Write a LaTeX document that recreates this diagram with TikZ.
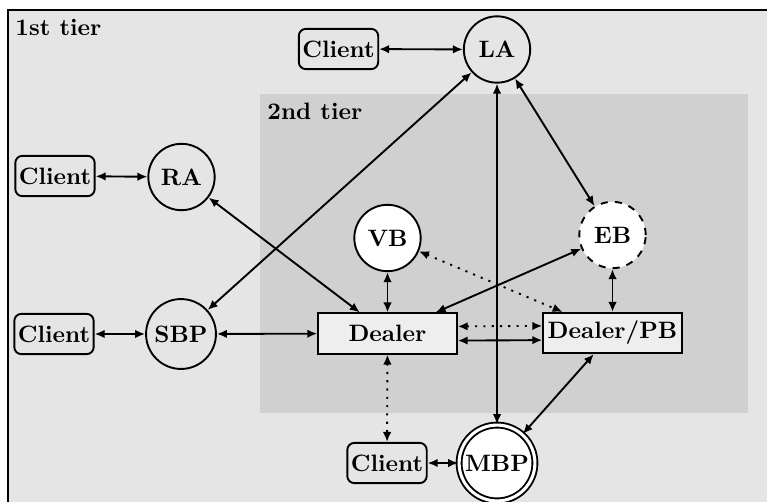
\documentclass[tikz,border=0pt]{standalone}
\usetikzlibrary{arrows.meta}
\definecolor{tierone}{HTML}{E5E5E5}
\definecolor{tiertwo}{HTML}{D0D0D0}
\definecolor{boxfill}{HTML}{EEEEEE}
\begin{document}
\begin{tikzpicture}[x=0.422pt,y=-0.422pt,
  every node/.style={font=\bfseries},
  conn/.style={line width=0.8pt,{Latex[length=4.2pt,width=3.6pt]}-{Latex[length=4.2pt,width=3.6pt]}},
  dotconn/.style={conn,dash pattern=on 0.9pt off 2.6pt},
  agent/.style={circle,draw,line width=0.8pt,inner sep=0pt,minimum size=28pt},
  whiteagent/.style={agent,fill=white},
  client/.style={draw,line width=0.8pt,rounded corners=3pt,inner sep=1.5pt,minimum height=17pt},
  dealerbox/.style={draw,line width=0.8pt,fill=boxfill,inner sep=1.5pt,minimum width=58.5pt,minimum height=17pt},
  tierlabel/.style={anchor=base west,inner sep=0pt}]
\useasboundingbox (0,0) rectangle (767,501);
\clip (0,0) rectangle (767,501);
\fill[white] (0,0) rectangle (767,501);
\draw[fill=tierone,line width=0.9pt] (8,10) rectangle (790,530);
\fill[tiertwo] (260,94) rectangle (748,413);
\node[tierlabel] (t1) at (15,36) {1st tier};
\node[tierlabel] (t2) at (267,119) {2nd tier};

\node[agent] (LA) at (497,49.5) {LA};
\node[agent] (RA) at (181.5,177) {RA};
\node[agent,minimum size=29.5pt] (SBP) at (181,334) {SBP};
\node[whiteagent] (VB) at (387.5,238) {VB};
\node[whiteagent,dashed] (EB) at (612.5,235) {EB};
\node[circle,draw,fill=white,line width=0.8pt,double,double distance=1.3pt,inner sep=0pt,minimum size=32pt] (MBP) at (497,463) {MBP};

\node[client] (C1) at (338.5,49) {Client};
\node[client] (C2) at (55,176) {Client};
\node[client] (C3) at (54,334) {Client};
\node[client] (C4) at (387,463) {Client};

\node[dealerbox] (D) at (387.5,333.5) {Dealer};
\node[dealerbox] (DPB) at (612.5,333) {Dealer/PB};

\draw[conn] (C1) -- (LA);
\draw[conn] (C2) -- (RA);
\draw[conn] (C3) -- (SBP);
\draw[conn] (C4) -- (MBP);
\draw[conn] (LA) -- (SBP);
\draw[conn] (LA) -- (MBP);
\draw[conn] (LA) -- (EB);
\draw[conn] (RA) -- (D);
\draw[conn] (SBP) -- (D);
\draw[conn] (VB) -- (D);
\draw[conn] (EB) -- (D);
\draw[dotconn] (VB) -- (DPB);
\draw[conn] (EB) -- (DPB);
\draw[dotconn] ([yshift=3pt]D.east) -- ([yshift=3pt]DPB.west);
\draw[conn] ([yshift=-3pt]D.east) -- ([yshift=-3pt]DPB.west);
\draw[dotconn] (D) -- (C4);
\draw[conn] (DPB) -- (MBP);
\end{tikzpicture}
\end{document}
